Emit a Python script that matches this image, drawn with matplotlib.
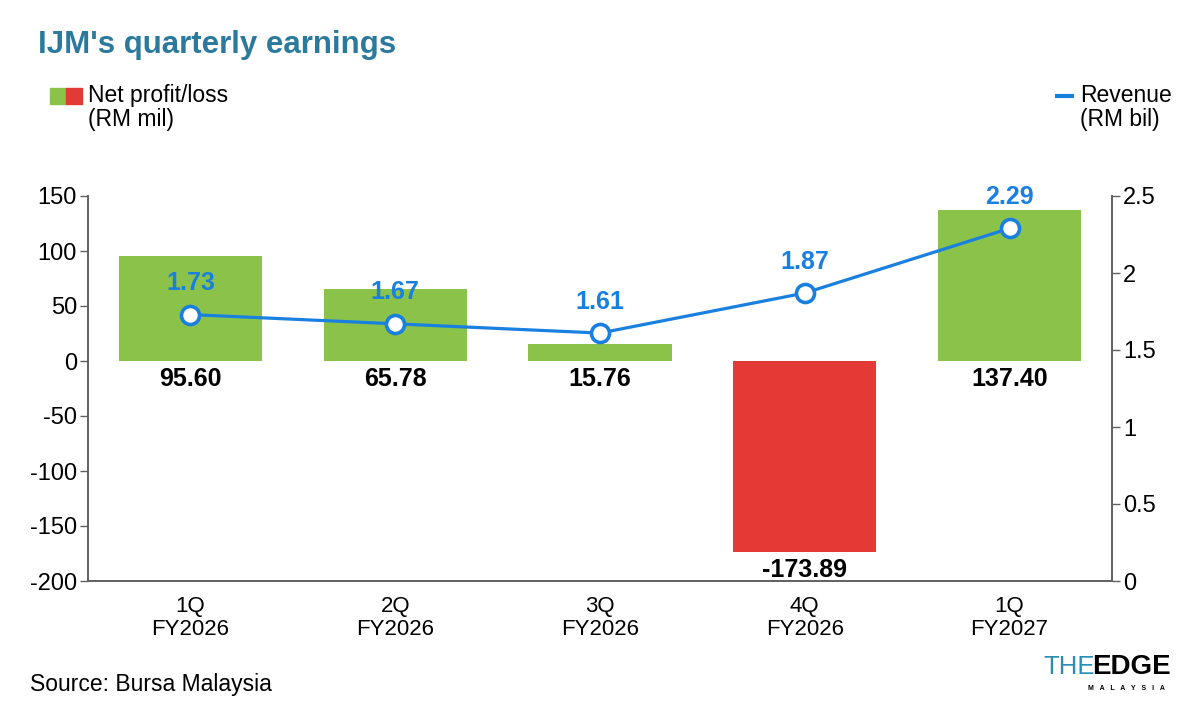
import matplotlib.pyplot as plt
from matplotlib.patches import Rectangle

plt.rcParams["font.family"] = ["Liberation Sans", "DejaVu Sans"]

quarters = ["1Q\nFY2026", "2Q\nFY2026", "3Q\nFY2026", "4Q\nFY2026", "1Q\nFY2027"]
net_profit = [95.60, 65.78, 15.76, -173.89, 137.40]  # RM mil
revenue = [1.73, 1.67, 1.61, 1.87, 2.29]  # RM bil

left_ticks = [150, 100, 50, 0, -50, -100, -150, -200]
right_ticks = [2.5, 2, 1.5, 1, 0.5, 0]

GREEN = "#8bc24a"
RED = "#e33a35"
BLUE = "#1a80e0"
AXIS = "#606060"
TITLE = "#2b7a9e"

fig = plt.figure(figsize=(12, 7.12), dpi=100)
ax = fig.add_axes([88 / 1200, 1 - 581 / 712, 1024 / 1200, 385 / 712])
ax2 = ax.twinx()

x = list(range(len(quarters)))
colors = [GREEN if v >= 0 else RED for v in net_profit]
ax.bar(x, net_profit, width=0.7, color=colors, zorder=2)
ax.set_xlim(-0.5, len(quarters) - 0.5)
ax.set_ylim(-200, 150)
ax.set_yticks(left_ticks)
ax.set_yticklabels([str(t) for t in left_ticks])
ax.set_xticks(x)
ax.set_xticklabels(quarters, fontsize=16, linespacing=1.1)
ax.tick_params(axis="x", length=0, pad=11)
ax.tick_params(axis="y", length=6, width=1, color=AXIS, labelsize=17, pad=2)

for i, v in enumerate(net_profit):
    base = 0 if v >= 0 else v
    ax.annotate(f"{v:.2f}", (i, base), xytext=(0, -4), textcoords="offset points",
                ha="center", va="top", fontsize=18, fontweight="bold", color="black")

ax2.plot(x, revenue, color=BLUE, lw=2.3, marker="o", ms=13, mfc="white",
         mec=BLUE, mew=2.6, zorder=3)
ax2.set_ylim(0, 2.5)
ax2.set_yticks(right_ticks)
ax2.set_yticklabels([f"{t:g}" for t in right_ticks])
ax2.tick_params(axis="y", length=6, width=1, color=AXIS, labelsize=17, pad=2)
for i, v in enumerate(revenue):
    ax2.annotate(f"{v:.2f}", (i, v), xytext=(0, 14), textcoords="offset points",
                 ha="center", va="bottom", fontsize=18, fontweight="bold", color=BLUE)

for a in (ax, ax2):
    a.spines["top"].set_visible(False)
    for s in ("left", "right", "bottom"):
        a.spines[s].set_color(AXIS)
        a.spines[s].set_linewidth(1.2)
ax.patch.set_visible(False)
ax.set_zorder(ax2.get_zorder() - 1)
ax2.patch.set_visible(False)

# title and legends
fig.text(38 / 1200, 1 - 45 / 712, "IJM's quarterly earnings", fontsize=22.5,
         fontweight="bold", color=TITLE, va="center", ha="left")
fig.patches.append(Rectangle((50 / 1200, 1 - 104 / 712), 16 / 1200, 16 / 712,
                             transform=fig.transFigure, color=GREEN))
fig.patches.append(Rectangle((66 / 1200, 1 - 104 / 712), 16 / 1200, 16 / 712,
                             transform=fig.transFigure, color=RED))
fig.text(88 / 1200, 1 - 84 / 712, "Net profit/loss\n(RM mil)", fontsize=16.5,
         va="top", ha="left", linespacing=1.05)
fig.add_artist(plt.Line2D([1057 / 1200, 1072 / 1200], [1 - 96 / 712, 1 - 96 / 712],
                          color=BLUE, lw=3, transform=fig.transFigure))
fig.text(1080 / 1200, 1 - 84 / 712, "Revenue\n(RM bil)", fontsize=16.5,
         va="top", ha="left", linespacing=1.05)

fig.text(30 / 1200, 1 - 684 / 712, "Source: Bursa Malaysia", fontsize=16.5,
         va="center", ha="left")

# logo
fig.text(1043 / 1200, 1 - 667 / 712, "THE", fontsize=18.5, color="#2a8db3",
         va="center", ha="left")
fig.text(1092 / 1200, 1 - 667 / 712, "EDGE", fontsize=20, color="black",
         fontweight="heavy", va="center", ha="left")
fig.text(1088 / 1200, 1 - 689 / 712, "M   A   L   A   Y   S   I   A", fontsize=5,
         color="black", fontweight="bold", va="center", ha="left")

fig.savefig("out.png", dpi=100)
